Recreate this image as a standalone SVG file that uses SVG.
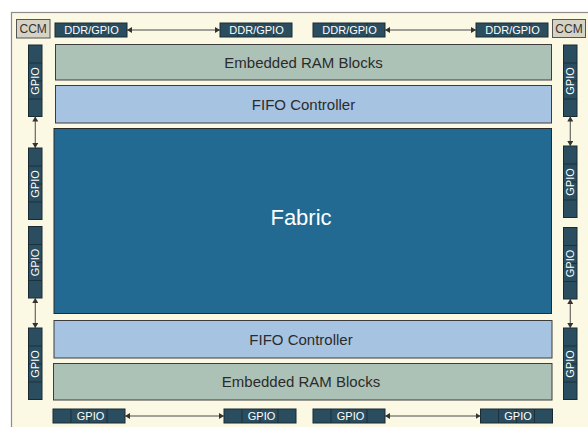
<svg xmlns="http://www.w3.org/2000/svg" width="588" height="427" viewBox="0 0 588 427">
<style>
.frame{fill:#FBF9E4;stroke:#8C8C8C;stroke-width:1.2}
.ram{fill:#ADC2B7;stroke:#3C3C3C;stroke-width:1}
.fifo{fill:#A7C3E2;stroke:#3C3C3C;stroke-width:1}
.fab{fill:#226A92;stroke:#2A2A2A;stroke-width:1}
.cell{fill:#2A4E5F;stroke:#1A2A33;stroke-width:1}
.div{stroke:#1A2A33;stroke-width:0.8}
.ccm{fill:#D6D2C4;stroke:#555;stroke-width:1}
.t{font-family:"Liberation Sans",Arial,sans-serif;text-anchor:middle}
.big{font-size:15px;fill:#2B2B2B}
.io{font-size:11px;fill:#FFFFFF}
.cc{font-size:12px;fill:#333}
.fabt{font-size:22px;fill:#FFFFFF}
.con{stroke:#4A4A4A;stroke-width:1;fill:none;marker-start:url(#ah);marker-end:url(#ah)}
</style>
<defs>
<marker id="ah" markerUnits="userSpaceOnUse" markerWidth="5" markerHeight="6" refX="5" refY="3" orient="auto-start-reverse">
<path d="M0,0 L5,3 L0,6 z" fill="#333"/>
</marker>
<g id="hcell">
<rect class="cell" x="0" y="0" width="72" height="14"/>
<line class="div" x1="18" y1="0" x2="18" y2="14"/>
<line class="div" x1="36" y1="0" x2="36" y2="14"/>
<line class="div" x1="54" y1="0" x2="54" y2="14"/>
</g>
<g id="vcell">
<rect class="cell" x="0" y="0" width="13.5" height="71.5"/>
<line class="div" x1="0" y1="18" x2="13.5" y2="18"/>
<line class="div" x1="0" y1="36" x2="13.5" y2="36"/>
<line class="div" x1="0" y1="54" x2="13.5" y2="54"/>
</g>
</defs>
<rect class="frame" x="11.5" y="12.5" width="620" height="440"/>

<g id="ccm-left"><rect class="ccm" x="16.5" y="19.5" width="33.5" height="18.5"/><text class="t cc" x="33.2" y="33">CCM</text></g>
<g id="ccm-right"><rect class="ccm" x="552.5" y="19.5" width="33" height="18"/><text class="t cc" x="569" y="33">CCM</text></g>

<g id="ddr1"><use href="#hcell" x="55" y="23"/><text class="t io" x="91.5" y="34">DDR/GPIO</text></g>
<g id="ddr2"><use href="#hcell" x="220" y="23"/><text class="t io" x="256.5" y="34">DDR/GPIO</text></g>
<g id="ddr3"><use href="#hcell" x="313" y="23"/><text class="t io" x="349.5" y="34">DDR/GPIO</text></g>
<g id="ddr4"><use href="#hcell" x="476" y="23"/><text class="t io" x="512.5" y="34">DDR/GPIO</text></g>

<g id="gpio-b1"><use href="#hcell" x="53" y="409"/><text class="t io" x="90.5" y="420">GPIO</text></g>
<g id="gpio-b2"><use href="#hcell" x="224" y="409"/><text class="t io" x="261.5" y="420">GPIO</text></g>
<g id="gpio-b3"><use href="#hcell" x="313" y="409"/><text class="t io" x="350.5" y="420">GPIO</text></g>
<g id="gpio-b4"><use href="#hcell" x="480.5" y="409"/><text class="t io" x="518" y="420">GPIO</text></g>

<g id="gpio-l1"><use href="#vcell" x="28.5" y="45"/><text class="t io" transform="translate(35.25,81) rotate(-90)" x="0" y="4">GPIO</text></g>
<g id="gpio-l2"><use href="#vcell" x="28.5" y="148"/><text class="t io" transform="translate(35.25,184) rotate(-90)" x="0" y="4">GPIO</text></g>
<g id="gpio-l3"><use href="#vcell" x="28.5" y="226.5"/><text class="t io" transform="translate(35.25,262.5) rotate(-90)" x="0" y="4">GPIO</text></g>
<g id="gpio-l4"><use href="#vcell" x="28.5" y="328"/><text class="t io" transform="translate(35.25,364) rotate(-90)" x="0" y="4">GPIO</text></g>

<g id="gpio-r1"><use href="#vcell" x="563.5" y="45"/><text class="t io" transform="translate(570.25,81) rotate(-90)" x="0" y="4">GPIO</text></g>
<g id="gpio-r2"><use href="#vcell" x="563.5" y="146"/><text class="t io" transform="translate(570.25,182) rotate(-90)" x="0" y="4">GPIO</text></g>
<g id="gpio-r3"><use href="#vcell" x="563.5" y="227.5"/><text class="t io" transform="translate(570.25,263.5) rotate(-90)" x="0" y="4">GPIO</text></g>
<g id="gpio-r4"><use href="#vcell" x="563.5" y="328"/><text class="t io" transform="translate(570.25,364) rotate(-90)" x="0" y="4">GPIO</text></g>

<g id="ram-top"><rect class="ram" x="55.5" y="44.5" width="496" height="35.5"/><text class="t big" x="303.5" y="67.5">Embedded RAM Blocks</text></g>
<g id="fifo-top"><rect class="fifo" x="55.5" y="85.5" width="496" height="37.5"/><text class="t big" x="303.5" y="109.5">FIFO Controller</text></g>
<g id="fabric"><rect class="fab" x="54" y="128.5" width="497.5" height="185"/><text class="t fabt" x="301" y="225">Fabric</text></g>
<g id="fifo-bottom"><rect class="fifo" x="54" y="320.5" width="498" height="37.5"/><text class="t big" x="301" y="344.5">FIFO Controller</text></g>
<g id="ram-bottom"><rect class="ram" x="53.5" y="363.5" width="498.5" height="36.5"/><text class="t big" x="301" y="387">Embedded RAM Blocks</text></g>

<g id="connectors">
<line class="con" x1="127" y1="30" x2="220" y2="30"/>
<line class="con" x1="385" y1="30" x2="476" y2="30"/>
<line class="con" x1="125" y1="416" x2="224" y2="416"/>
<line class="con" x1="385" y1="416" x2="480.5" y2="416"/>
<line class="con" x1="35.25" y1="116.5" x2="35.25" y2="148"/>
<line class="con" x1="35.25" y1="298" x2="35.25" y2="328"/>
<line class="con" x1="570.25" y1="116.5" x2="570.25" y2="146"/>
<line class="con" x1="570.25" y1="299" x2="570.25" y2="328"/>
</g>
</svg>
